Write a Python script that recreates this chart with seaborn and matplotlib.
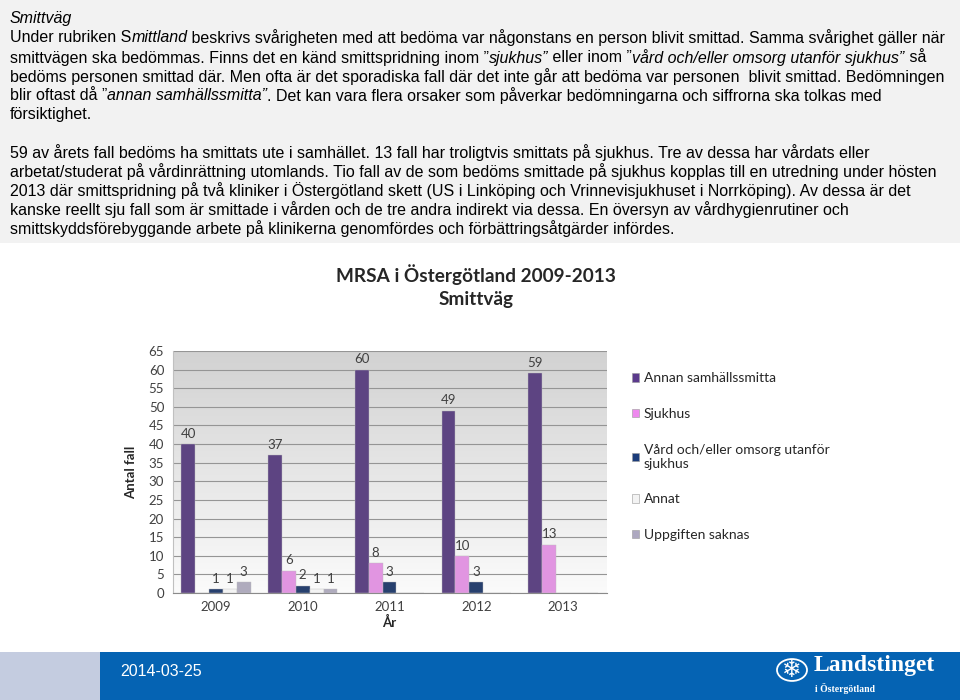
import numpy as np
import pandas as pd
import matplotlib
matplotlib.use('Agg')
import matplotlib.pyplot as plt
from matplotlib.patches import Patch, Rectangle, Circle
from matplotlib import font_manager
import seaborn as sns

# chart data
years = ['2009', '2010', '2011', '2012', '2013']
series = ['Annan samhällssmitta', 'Sjukhus', 'Vård och/eller omsorg utanför\nsjukhus',
          'Annat', 'Uppgiften saknas']
annan = [40, 37, 60, 49, 59]
sjukhus = [0, 6, 8, 10, 13]
vard = [1, 2, 3, 3, 0]
annat = [1, 1, 0, 0, 0]
saknas = [3, 1, 0, 0, 0]
colors = ['#5b3a8c', '#ee88ee', '#1b3c7a', '#f3f3f3', '#ada8c0']

# slide text
intro_lines = [
    [('Smittväg', True)],
    [('Under rubriken S', False), ('mittland', True),
     (' beskrivs svårigheten med att bedöma var någonstans en person blivit smittad. Samma svårighet gäller när', False)],
    [('smittvägen ska bedömmas. Finns det en känd smittspridning inom ”', False), ('sjukhus”', True),
     (' eller inom ”', False), ('vård och/eller omsorg utanför sjukhus”', True), (' så', False)],
    [('bedöms personen smittad där. Men ofta är det sporadiska fall där det inte går att bedöma var personen  blivit smittad. Bedömningen', False)],
    [('blir oftast då ”', False), ('annan samhällssmitta”', True),
     ('. Det kan vara flera orsaker som påverkar bedömningarna och siffrorna ska tolkas med', False)],
    [('försiktighet.', False)],
    [],
    [('59 av årets fall bedöms ha smittats ute i samhället. 13 fall har troligtvis smittats på sjukhus. Tre av dessa har vårdats eller', False)],
    [('arbetat/studerat på vårdinrättning utomlands. Tio fall av de som bedöms smittade på sjukhus kopplas till en utredning under hösten', False)],
    [('2013 där smittspridning på två kliniker i Östergötland skett (US i Linköping och Vrinnevisjukhuset i Norrköping). Av dessa är det', False)],
    [('kanske reellt sju fall som är smittade i vården och de tre andra indirekt via dessa. En översyn av vårdhygienrutiner och', False)],
    [('smittskyddsförebyggande arbete på klinikerna genomfördes och förbättringsåtgärder infördes.', False)],
]

df = pd.DataFrame({'År': years * 5,
                   'Smittväg': np.repeat(series, 5),
                   'Antal fall': annan + sjukhus + vard + annat + saknas})

W, H = 960, 700
fig = plt.figure(figsize=(9.6, 7), dpi=100)
fig.patch.set_facecolor('white')

# grey text box on top
fig.patches.append(Rectangle((0, 1 - 243 / H), 1, 243 / H, transform=fig.transFigure,
                             facecolor='#f2f2f2', edgecolor='none', zorder=0))

names = {f.name for f in font_manager.fontManager.ttflist}
body_font = 'Liberation Sans Narrow' if 'Liberation Sans Narrow' in names else 'Liberation Sans'

renderer = fig.canvas.get_renderer()
probe = fig.text(0, 0, ''.join(s for s, _ in intro_lines[1]), fontsize=11, family=body_font)
fs = 11 * 932 / probe.get_window_extent(renderer).width
probe.remove()

y_px = [18, 38, 58, 77, 96, 115, 134, 153, 172, 191, 210, 229]
for y, segs in zip(y_px, intro_lines):
    x = 10
    for txt, ital in segs:
        t = fig.text(x / W, 1 - y / H, txt, fontsize=fs, family=body_font,
                     style='italic' if ital else 'normal', va='center', color='black')
        x += t.get_window_extent(renderer).width

# chart
sns.set_style('white')
plt.rcParams['font.family'] = ['Lato', 'DejaVu Sans']
ax = fig.add_axes([172.5 / W, 107 / H, 434 / W, 242 / H])

grad = np.linspace(0, 1, 256).reshape(-1, 1)
ax.imshow(grad, extent=(-0.5, 4.5, 0, 65), aspect='auto', origin='lower',
          cmap=matplotlib.colors.LinearSegmentedColormap.from_list('bg', ['#fbfbfb', '#d2d2d2']),
          zorder=0)

sns.barplot(data=df, x='År', y='Antal fall', hue='Smittväg', palette=colors,
            width=0.8, errorbar=None, legend=False, ax=ax, zorder=3,
            edgecolor='#bdbdbd', linewidth=0.3)

for cont, vals in zip(ax.containers, [annan, sjukhus, vard, annat, saknas]):
    ax.bar_label(cont, labels=[str(v) if v else '' for v in vals], padding=3,
                 fontsize=9.5, color='#404040', family='Lato')

ax.set_xlim(-0.5, 4.5)
ax.set_ylim(0, 65)
ax.set_yticks(range(0, 66, 5))
ax.yaxis.grid(True, color='#959595', linewidth=0.8, zorder=1)
ax.set_axisbelow(True)
ax.tick_params(axis='both', length=0, labelsize=9.5, labelcolor='#404040', pad=6)
for s in ['top', 'right']:
    ax.spines[s].set_visible(False)
ax.spines['left'].set_color('#c0c0c0')
ax.spines['bottom'].set_color('#8a8a8a')
ax.set_xlabel('År', fontsize=9.5, fontweight='bold', color='#262626', labelpad=2)
ax.set_ylabel('Antal fall', fontsize=9.5, fontweight='bold', color='#262626', labelpad=8)

fig.text(476 / W, 1 - 275 / H, 'MRSA i Östergötland 2009-2013', ha='center', va='center',
         fontsize=13.7, fontweight='bold', family=['Lato', 'DejaVu Sans'])
fig.text(476 / W, 1 - 299 / H, 'Smittväg', ha='center', va='center',
         fontsize=13.7, fontweight='bold', family=['Lato', 'DejaVu Sans'])

handles = [Patch(facecolor=c, edgecolor='#9a9a9a', linewidth=0.4) for c in colors]
fig.legend(handles, series, loc='upper left', bbox_to_anchor=(619 / W, 1 - 360 / H),
           frameon=False, fontsize=10, handlelength=0.55, handleheight=0.55,
           handletextpad=0.35, labelspacing=1.7, labelcolor='#262626')

# footer band
fig.patches.append(Rectangle((0, 0), 100 / W, 48 / H, transform=fig.transFigure,
                             facecolor='#c4cce0', edgecolor='none'))
fig.patches.append(Rectangle((100 / W, 0), 860 / W, 48 / H, transform=fig.transFigure,
                             facecolor='#0563b3', edgecolor='none'))
fig.text(120 / W, 1 - 672 / H, '2014-03-25', color='white', fontsize=11.5,
         family='Liberation Sans', va='center')
fig.patches.append(Circle((792 / W, 1 - 670 / H), 15 / W, transform=fig.transFigure,
                          facecolor='none', edgecolor='white', linewidth=1.3))
fig.text(792 / W, 1 - 670 / H, '❄', color='white', fontsize=17, family='DejaVu Sans',
         ha='center', va='center')
fig.text(814 / W, 1 - 666 / H, 'Landstinget', color='white', fontsize=17, fontweight='bold',
         family='Liberation Serif', va='center')
fig.text(815 / W, 1 - 688 / H, 'i Östergötland', color='white', fontsize=7, fontweight='bold',
         family='Liberation Serif', va='center')

fig.savefig('out.png', dpi=100)
